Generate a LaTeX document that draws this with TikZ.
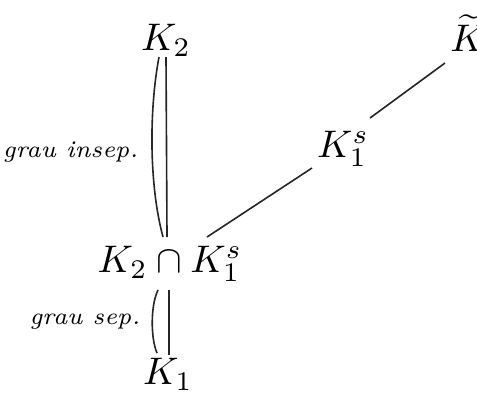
\documentclass[tikz,border=0pt]{standalone}
\usepackage{amsmath}
\begin{document}
\begin{tikzpicture}[x=0.26pt,y=-0.26pt,
  conn/.style={draw=black!85,line width=0.42pt},
  mnode/.style={inner sep=1pt},
  lbl/.style={font=\fontsize{6.2}{7.5}\selectfont\itshape,anchor=east,inner sep=1pt}]
\useasboundingbox (0,0) rectangle (477,393);
\node[mnode] (k2) at (166,40) {$K_2$};
\node[mnode] (kt) at (468,33) {$\widetilde{K}$};
\node[mnode] (k1s) at (343,149) {$K_1^s$};
\node[mnode] (int) at (170,264) {$K_2\cap K_1^s$};
\node[mnode] (k1) at (168,374) {$K_1$};
\node[lbl] (li) at (143,152) {grau insep.};
\node[lbl] (ls) at (145,322) {grau sep.};
% upper double connection
\draw[conn] ([shift={(0,17)}]k2.center) -- ([shift={(-3,-27)}]int.center);
\draw[conn] ([shift={(-7,17)}]k2.center) .. controls ([shift={(-17,70)}]k2.center) and ([shift={(-21,-79)}]int.center) .. ([shift={(-7,-27)}]int.center);
% lower double connection
\draw[conn] ([shift={(-1,26)}]int.center) -- ([shift={(1,-19)}]k1.center);
\draw[conn] ([shift={(-12,26)}]int.center) .. controls ([shift={(-19.5,41)}]int.center) and ([shift={(-17.5,-36)}]k1.center) .. ([shift={(-11,-21)}]k1.center);
% diagonals
\draw[conn] ([shift={(37,-27)}]int.center) -- ([shift={(-31,19)}]k1s.center);
\draw[conn] ([shift={(27,-31)}]k1s.center) -- ([shift={(-23,30)}]kt.center);
\end{tikzpicture}
\end{document}
